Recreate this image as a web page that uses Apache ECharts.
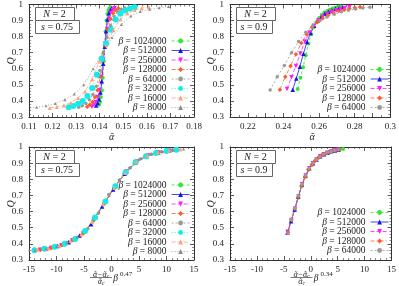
<!DOCTYPE html>
<html><head><meta charset="utf-8">
<script src="https://cdn.jsdelivr.net/npm/echarts@6/dist/echarts.min.js"></script>
<style>html,body{margin:0;padding:0;background:#fff}#c{width:399px;height:286px}</style>
</head><body><div id="c"></div>
<script>
// ---------- s = 0.75 (top-left: alpha, bottom-left: scaled x) ----------
const a75_1024000 = [0.1397,0.1401,0.1405,0.1409,0.1413,0.1417,0.1421,0.1425,0.1429,0.1433,0.1437,0.1441,0.1445];
const q75_1024000 = [0.377,0.394,0.424,0.465,0.545,0.647,0.744,0.833,0.900,0.941,0.962,0.974,0.983];
const x75_1024000 = [-10.8,-8.9,-7.0,-5.2,-3.3,-1.4,0.5,2.3,4.2,6.1,8.0,9.9,11.7];

const a75_512000 = [0.1385,0.1391,0.1397,0.1403,0.1409,0.1415,0.1421,0.1427,0.1433,0.1439,0.1445,0.1451];
const q75_512000 = [0.371,0.387,0.410,0.452,0.522,0.632,0.737,0.834,0.906,0.945,0.966,0.977];
const x75_512000 = [-11.9,-9.8,-7.8,-5.8,-3.7,-1.7,0.3,2.4,4.4,6.4,8.5,10.5];

const a75_256000 = [0.1367,0.1375,0.1383,0.1391,0.1399,0.1407,0.1415,0.1423,0.1431,0.1439,0.1447,0.1455,0.1463];
const q75_256000 = [0.364,0.375,0.392,0.423,0.466,0.550,0.656,0.757,0.848,0.912,0.948,0.966,0.977];
const x75_256000 = [-13.0,-11.0,-9.1,-7.1,-5.1,-3.2,-1.2,0.7,2.7,4.7,6.6,8.6,10.5];

const a75_128000 = [0.1347,0.1358,0.1369,0.1380,0.1391,0.1402,0.1413,0.1424,0.1435,0.1446,0.1457,0.1468,0.1479];
const q75_128000 = [0.364,0.376,0.393,0.424,0.466,0.551,0.655,0.755,0.845,0.910,0.946,0.966,0.977];
const x75_128000 = [-12.9,-11.0,-9.0,-7.1,-5.1,-3.2,-1.2,0.7,2.7,4.6,6.5,8.5,10.4];

const a75_64000 = [0.1311,0.1326,0.1341,0.1356,0.1371,0.1386,0.1401,0.1416,0.1431,0.1446,0.1461,0.1476,0.1491,0.1506];
const q75_64000 = [0.360,0.370,0.384,0.407,0.440,0.492,0.590,0.705,0.795,0.870,0.925,0.955,0.970,0.980];
const x75_64000 = [-13.9,-12.0,-10.1,-8.2,-6.3,-4.4,-2.4,-0.5,1.4,3.3,5.2,7.2,9.1,11.0];

const a75_32000 = [0.1268,0.1288,0.1308,0.1328,0.1348,0.1368,0.1388,0.1408,0.1428,0.1448,0.1468,0.1488,0.1508,0.1528,0.1548];
const q75_32000 = [0.360,0.369,0.382,0.400,0.430,0.480,0.563,0.662,0.757,0.843,0.907,0.943,0.963,0.975,0.983];
const x75_32000 = [-14.0,-12.2,-10.3,-8.5,-6.6,-4.8,-3.0,-1.1,0.7,2.6,4.4,6.3,8.1,10.0,11.8];

const a75_16000 = [0.1188,0.1218,0.1248,0.1278,0.1308,0.1338,0.1368,0.1398,0.1428,0.1458,0.1488,0.1518,0.1548,0.1578,0.1608];
const q75_16000 = [0.356,0.363,0.372,0.389,0.418,0.458,0.535,0.645,0.746,0.840,0.909,0.946,0.966,0.977,0.985];
const x75_16000 = [-15.5,-13.5,-11.5,-9.5,-7.5,-5.5,-3.5,-1.5,0.5,2.5,4.5,6.5,8.5,10.5,12.5];

const a75_8000 = [0.1092,0.1132,0.1172,0.1212,0.1252,0.1292,0.1332,0.1372,0.1412,0.1452,0.1492,0.1532,0.1572,0.1612,0.1652,0.1692];
const q75_8000 = [0.355,0.360,0.370,0.384,0.408,0.443,0.500,0.600,0.700,0.795,0.875,0.928,0.957,0.970,0.980,0.987];
const x75_8000 = [-15.8,-13.9,-11.9,-10.0,-8.1,-6.2,-4.2,-2.3,-0.4,1.5,3.5,5.4,7.3,9.2,11.2,13.1];

// ---------- s = 0.9 (top-right: alpha, bottom-right: scaled x) ----------
const a90_1024000 = [0.2480,0.2495,0.2510,0.2525,0.2540,0.2555,0.2570,0.2585,0.2600,0.2615,0.2630,0.2645,0.2660,0.2675,0.2690,0.2705,0.2720];
const q90_1024000 = [0.475,0.545,0.610,0.685,0.757,0.815,0.860,0.890,0.916,0.935,0.950,0.960,0.968,0.975,0.980,0.984,0.988];
const x90_1024000 = [-4.28,-3.64,-3.00,-2.36,-1.71,-1.07,-0.43,0.21,0.86,1.50,2.14,2.78,3.43,4.07,4.71,5.35,6.00];

const a90_512000 = [0.2452,0.2472,0.2492,0.2512,0.2532,0.2552,0.2572,0.2592,0.2612,0.2632,0.2652,0.2672,0.2692,0.2712,0.2732];
const q90_512000 = [0.470,0.540,0.613,0.693,0.767,0.823,0.868,0.900,0.922,0.942,0.955,0.965,0.973,0.979,0.983];
const x90_512000 = [-4.34,-3.66,-2.98,-2.30,-1.63,-0.95,-0.27,0.41,1.08,1.76,2.44,3.12,3.79,4.47,5.15];

const a90_256000 = [0.2420,0.2445,0.2470,0.2495,0.2520,0.2545,0.2570,0.2595,0.2620,0.2645,0.2670,0.2695,0.2720,0.2745,0.2770];
const q90_256000 = [0.475,0.548,0.618,0.695,0.770,0.824,0.868,0.900,0.922,0.942,0.955,0.964,0.972,0.978,0.983];
const x90_256000 = [-4.28,-3.61,-2.94,-2.27,-1.60,-0.94,-0.27,0.40,1.07,1.74,2.41,3.08,3.74,4.41,5.08];

const a90_128000 = [0.238,0.241,0.244,0.247,0.250,0.253,0.256,0.259,0.262,0.265,0.268,0.271,0.274,0.277,0.280,0.283];
const q90_128000 = [0.470,0.550,0.617,0.690,0.760,0.815,0.860,0.890,0.915,0.935,0.950,0.960,0.967,0.975,0.980,0.984];
const x90_128000 = [-4.22,-3.59,-2.96,-2.32,-1.69,-1.06,-0.42,0.21,0.84,1.48,2.11,2.75,3.38,4.01,4.65,5.28];

const a90_64000 = [0.2325,0.2365,0.2405,0.2445,0.2485,0.2525,0.2565,0.2605,0.2645,0.2685,0.2725,0.2765,0.2805,0.2845,0.2885];
const q90_64000 = [0.468,0.550,0.620,0.700,0.770,0.827,0.868,0.900,0.922,0.940,0.955,0.964,0.972,0.978,0.983];
const x90_64000 = [-4.25,-3.58,-2.92,-2.25,-1.58,-0.92,-0.25,0.42,1.08,1.75,2.42,3.08,3.75,4.42,5.08];

const betas75 = ['1024000','512000','256000','128000','64000','32000','16000','8000'];
const betas90 = ['1024000','512000','256000','128000','64000'];

const D75 = {
  '1024000':[a75_1024000,q75_1024000,x75_1024000], '512000':[a75_512000,q75_512000,x75_512000],
  '256000':[a75_256000,q75_256000,x75_256000], '128000':[a75_128000,q75_128000,x75_128000],
  '64000':[a75_64000,q75_64000,x75_64000], '32000':[a75_32000,q75_32000,x75_32000],
  '16000':[a75_16000,q75_16000,x75_16000], '8000':[a75_8000,q75_8000,x75_8000]
};
const D90 = {
  '1024000':[a90_1024000,q90_1024000,x90_1024000], '512000':[a90_512000,q90_512000,x90_512000],
  '256000':[a90_256000,q90_256000,x90_256000], '128000':[a90_128000,q90_128000,x90_128000],
  '64000':[a90_64000,q90_64000,x90_64000]
};

const ST = {
  '1024000':{c:'#33e633',s:'circle',z:4,t:[3,2]},
  '512000':{c:'#1414f0',s:'triangle',z:4.5,t:'solid'},
  '256000':{c:'#ff1aff',s:'triangle',r:180,z:4.5,t:[4,2]},
  '128000':{c:'#ff5a22',s:'diamond',z:4.5,t:[4,2,1,2]},
  '64000':{c:'#999999',s:'circle',z:3.5,t:[2,2]},
  '32000':{c:'#14eaea',s:'circle',z:6,t:[1,2]},
  '16000':{c:'#ffa07c',s:'triangle',z:4,t:[4,2]},
  '8000':{c:'#8a8a8a',s:'triangle',z:3,t:[1,2]}
};

const FONT = 'Liberation Serif';
const FONT_G = '"Liberation Serif", "DejaVu Serif"';
const AX = '#333';

function xPair(gi, min, max, interval, fmt, minorSplit){
  const base = {gridIndex:gi,type:'value',min,max,interval,
    axisLine:{show:true,onZero:false,lineStyle:{color:AX,width:1}},
    axisTick:{show:true,inside:true,length:4,lineStyle:{color:AX,width:0.8}},
    minorTick:{show:true,splitNumber:minorSplit,length:2,lineStyle:{color:AX,width:0.6}},
    splitLine:{show:false}};
  return [
    Object.assign({}, base, {position:'bottom',axisLabel:{show:true,formatter:fmt,fontFamily:FONT,fontSize:9,color:'#222',margin:5,showMinLabel:true,showMaxLabel:true,hideOverlap:false}}),
    Object.assign({}, base, {position:'top',axisLabel:{show:false}})
  ];
}
function yPair(gi){
  const base = {gridIndex:gi,type:'value',min:0.3,max:1,interval:0.1,
    axisLine:{show:true,onZero:false,lineStyle:{color:AX,width:1}},
    axisTick:{show:true,inside:true,length:4,lineStyle:{color:AX,width:0.8}},
    minorTick:{show:true,splitNumber:5,length:2,lineStyle:{color:AX,width:0.6}},
    splitLine:{show:false}};
  return [
    Object.assign({}, base, {position:'left',axisLabel:{show:true,fontFamily:FONT,fontSize:9,color:'#222',margin:6,
      formatter:v=>Math.abs(v-1)<1e-9?'1':v.toFixed(1)}}),
    Object.assign({}, base, {position:'right',axisLabel:{show:false}})
  ];
}

const fmtTL = v => v.toFixed(2);
const fmtTR = v => { const r=Math.round(v*100); return (r%2===0 && r>21) ? String(r/100) : ''; };
const fmtB = v => String(Math.round(v));

const xAxis = [].concat(
  xPair(0,0.11,0.18,0.01,fmtTL,5),
  xPair(1,0.21,0.30,0.01,fmtTR,2),
  xPair(2,-15,15,5,fmtB,5),
  xPair(3,-15,15,5,fmtB,5)
);
const yAxis = [].concat(yPair(0),yPair(1),yPair(2),yPair(3));

const grid = [
  {left:29,top:4,width:165,height:113},
  {left:230,top:4,width:164,height:113},
  {left:29,top:147,width:165,height:113},
  {left:230,top:147,width:164,height:113}
];

function mk(name, xs, qs, ax){
  const st = ST[name];
  return {type:'line',name,xAxisIndex:ax,yAxisIndex:ax,
    data: xs.map((x,i)=>[x,qs[i]]),
    symbol:st.s,symbolSize:st.z,symbolRotate:st.r||0,showSymbol:true,showAllSymbol:true,
    lineStyle:{color:st.c,width:0.8,type:st.t},itemStyle:{color:st.c},
    clip:true,animation:false,silent:true,emphasis:{disabled:true}};
}
const series = [];
betas75.forEach(b=>series.push(mk(b,D75[b][0],D75[b][1],0)));
betas90.forEach(b=>series.push(mk(b,D90[b][0],D90[b][1],2)));
betas75.forEach(b=>series.push(mk(b,D75[b][2],D75[b][1],4)));
betas90.forEach(b=>series.push(mk(b,D90[b][2],D90[b][1],6)));

function leg(names, right, top){
  return {data:names,orient:'vertical',align:'right',right,top,itemWidth:18,itemHeight:6,itemGap:-0.5,
    selectedMode:false,padding:0,
    lineStyle:{width:0.8},
    formatter:n=>'{i|β} = '+n,
    textStyle:{fontFamily:FONT,fontSize:9.5,color:'#222',lineHeight:9,
      rich:{i:{fontFamily:FONT,fontStyle:'italic',fontSize:9.5,lineHeight:9}}}};
}
const legend = [
  leg(betas75, 209, 36),
  leg(betas90, 10, 64.5),
  leg(betas75, 209, 180),
  leg(betas90, 10, 207.5)
];

function box(x,y,w,h){return {type:'rect',shape:{x:x+0.5,y:y+0.5,width:w,height:h},style:{fill:'#fff',stroke:'#666',lineWidth:1},z:100};}
function txt(x,y,text,size,rich,extra){return Object.assign({type:'text',x,y,z:101,style:{text,fontFamily:FONT,fontSize:size,fill:'#222',align:'center',verticalAlign:'middle',rich:rich||{}}},extra||{});}
const it = {i:{fontFamily:FONT,fontStyle:'italic',fontSize:10}};
const itA = {i:{fontFamily:FONT_G,fontStyle:'italic',fontSize:10}};
const itS = {t:{fontFamily:FONT_G,fontStyle:'italic',fontSize:8},s:{fontFamily:FONT,fontStyle:'italic',fontSize:5.5,verticalAlign:'bottom',padding:[4,0,0,0]}};

function panelGraphics(ox, oy, sText, expo, bottom){
  const g = [];
  g.push(box(ox+35,oy+7,39,13));
  g.push(txt(ox+54.5,oy+14,'{i|N} = 2',10,it));
  g.push(box(ox+35,oy+20,sText.length>3?44:36,13));
  g.push(txt(ox+35+(sText.length>3?22:18),oy+27,'{i|s} = '+sText,10,it));
  const cx = ox + (ox===0?111.5:111);
  g.push(txt(ox===0?11.5:211,oy+61,'{i|Q}',10,it,{rotation:Math.PI/2}));
  if(!bottom){
    g.push(txt(cx,oy+137,'{i|ᾶ}',10,itA));
  } else {
    const fx = cx - 10.5;
    g.push(txt(fx,oy+131.5,'{t|ᾶ−ᾶ}{s|c}',8,itS));
    g.push({type:'line',shape:{x1:fx-11,y1:oy+134.5,x2:fx+11,y2:oy+134.5},style:{stroke:'#222',lineWidth:0.6},z:101});
    g.push(txt(fx,oy+138.8,'{t|ᾶ}{s|c}',8,itS));
    g.push(txt(cx+4,oy+135,'{i|β}',9.5,{i:{fontFamily:FONT,fontStyle:'italic',fontSize:9.5}}));
    g.push(txt(cx+14.5,oy+131,expo,7));
  }
  return g;
}
const graphic = [].concat(
  panelGraphics(0,0,'0.75','',false),
  panelGraphics(201,0,'0.9','',false),
  panelGraphics(0,143,'0.75','0.47',true),
  panelGraphics(201,143,'0.9','0.34',true)
);

const chart = echarts.init(document.getElementById('c'),null,{renderer:'canvas'});
chart.setOption({animation:false,backgroundColor:'#fff',grid,xAxis,yAxis,series,legend,graphic});
</script></body></html>
